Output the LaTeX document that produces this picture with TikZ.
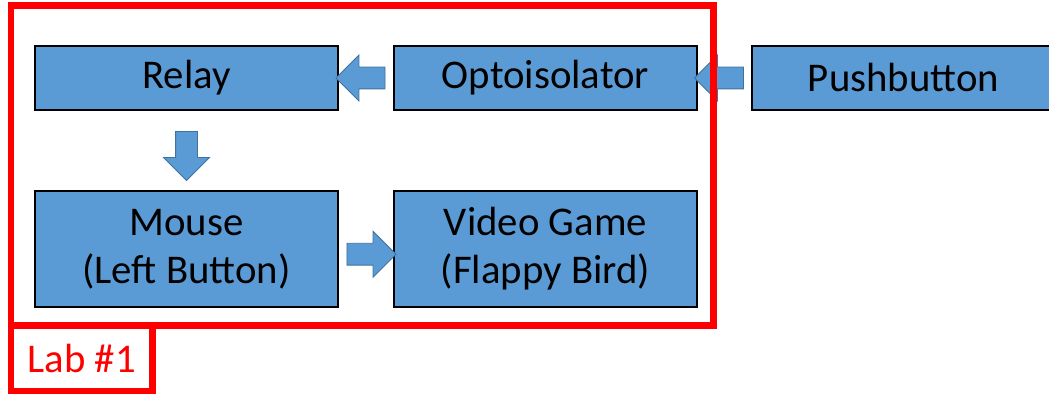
\documentclass[tikz,border=0pt]{standalone}
\usepackage{fontspec}
\setmainfont{Carlito}
\usetikzlibrary{shapes.arrows,calc}
\definecolor{boxblue}{HTML}{5B9BD5}
\definecolor{arrowedge}{HTML}{41719C}
\begin{document}
\begin{tikzpicture}[
        blockbox/.style={draw=black, line width=0.8pt, fill=boxblue, minimum width=7.575cm, minimum height=1.6cm, align=center, inner sep=0pt, font=\fontsize{29}{34}\selectfont},
        tallbox/.style={blockbox, minimum height=2.9cm},
        blockarrow/.style={single arrow, draw=arrowedge, line width=0.6pt, fill=boxblue, minimum height=1.225cm, inner sep=0.2625cm, single arrow head extend=0.3cm},
        labframe/.style={draw=red, line width=4.3pt}
        ]
        \useasboundingbox (0,0) rectangle (26.225,9.85);
        % blocks
        \node[blockbox] (relay) at (4.6625,7.9) {Relay};
        \node[blockbox] (opto) at (13.6375,7.9) {Optoisolator};
        \node[blockbox] (push) at (22.5875,7.9) {Pushbutton};
        \node[tallbox] (mouse) at (4.6625,3.625) {Mouse\\(Left Button)};
        \node[tallbox] (game) at (13.6375,3.625) {Video Game\\(Flappy Bird)};
        % block arrows
        \node[blockarrow, shape border rotate=180] (pushtoopto) at ($(push.west)!0.5!(opto.east)$) {};
        \node[blockarrow, shape border rotate=180] (optotorelay) at ($(opto.west)!0.5!(relay.east)$) {};
        \node[blockarrow, shape border rotate=270] (relaytomouse) at ($(relay.south)!0.5!(mouse.north)$) {};
        \node[blockarrow, yshift=-0.13cm] (mousetogame) at ($(mouse.east)!0.5!(game.west)$) {};
        % lab frame
        \draw[labframe] (0.275,9.7125) rectangle (17.8375,1.7125);
        \node[labframe, text=red, minimum width=3.5375cm, minimum height=1.6375cm, inner sep=0pt, font=\fontsize{29}{34}\selectfont] (lab) at (2.04375,0.89375) {Lab \#1};
\end{tikzpicture}
\end{document}
